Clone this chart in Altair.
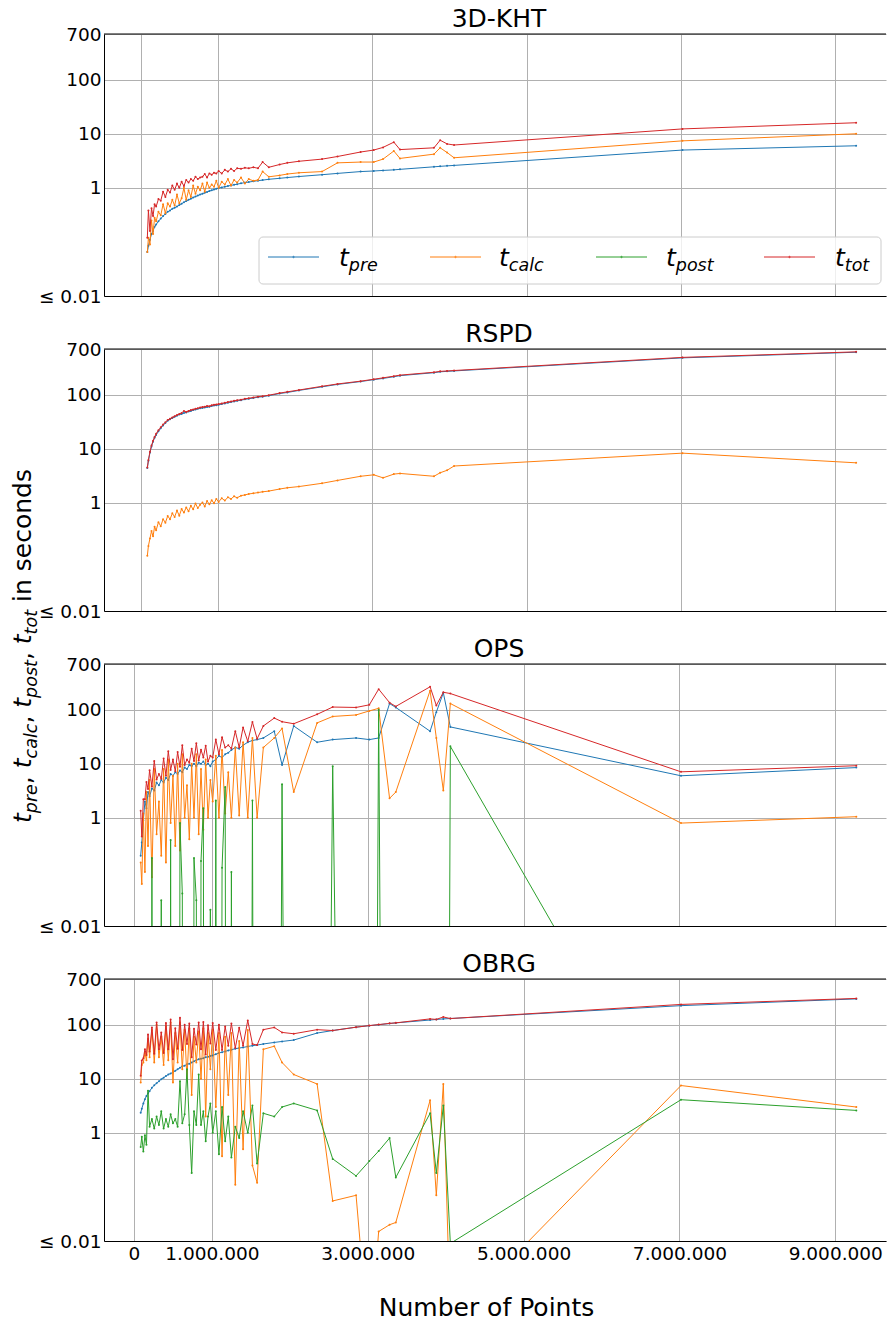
import altair as alt
import pandas as pd

# ---------------- data (x in millions of points) ----------------
X_M = [0.086, 0.10, 0.12, 0.14, 0.16, 0.18, 0.20, 0.23, 0.26, 0.29,
       0.32, 0.35, 0.38, 0.41, 0.44, 0.47, 0.50, 0.53, 0.56, 0.59,
       0.62, 0.65, 0.68, 0.71, 0.74, 0.77, 0.80, 0.83, 0.86, 0.89,
       0.92, 0.95, 0.98, 1.01, 1.05, 1.09, 1.13, 1.17, 1.21, 1.25,
       1.30, 1.35, 1.40, 1.46, 1.52, 1.58, 1.66, 1.80, 1.90, 2.05,
       2.35, 2.55, 2.85, 3.02, 3.14, 3.28, 3.36, 3.80, 3.88, 3.97,
       4.06, 7.02, 9.27]

KHT_PRE = [0.065, 0.085, 0.11, 0.14, 0.16, 0.19, 0.21, 0.24, 0.27, 0.30,
           0.33, 0.36, 0.38, 0.41, 0.43, 0.45, 0.48, 0.51, 0.54, 0.57,
           0.60, 0.63, 0.66, 0.69, 0.72, 0.75, 0.78, 0.81, 0.84, 0.87,
           0.90, 0.93, 0.96, 0.99, 1.02, 1.05, 1.08, 1.11, 1.14, 1.17,
           1.21, 1.25, 1.28, 1.32, 1.36, 1.39, 1.44, 1.50, 1.55, 1.62,
           1.75, 1.85, 2.0, 2.05, 2.1, 2.15, 2.2, 2.45, 2.5, 2.55,
           2.6, 5.0, 6.0]
KHT_CALC = [0.065, 0.12, 0.09, 0.25, 0.14, 0.28, 0.24, 0.36, 0.31, 0.50,
            0.34, 0.52, 0.45, 0.60, 0.47, 0.75, 0.52, 0.64, 1.00, 0.60,
            0.90, 0.68, 1.10, 0.78, 1.05, 0.90, 1.20, 0.85, 1.25, 1.00,
            1.15, 1.05, 1.35, 1.00, 1.30, 1.15, 1.45, 1.10, 1.40, 1.25,
            1.55, 1.20, 1.45, 1.35, 1.40, 2.0, 1.6, 1.7, 1.8, 1.9,
            2.0, 2.9, 3.0, 3.0, 3.4, 4.8, 3.5, 4.2, 5.5, 4.5,
            3.6, 7.4, 10.0]
KHT_TOT = [0.12, 0.38, 0.16, 0.42, 0.30, 0.50, 0.45, 0.62, 0.58, 0.85,
           0.68, 0.92, 0.82, 1.10, 0.92, 1.20, 1.00, 1.30, 1.08, 1.40,
           1.25, 1.45, 1.35, 1.60, 1.45, 1.55, 1.60, 1.80, 1.55, 1.85,
           1.75, 1.90, 1.85, 2.05, 1.85, 2.15, 2.00, 2.25, 2.05, 2.30,
           2.25, 2.35, 2.30, 2.40, 2.30, 3.00, 2.40, 2.70, 2.90, 3.10,
           3.40, 3.80, 4.60, 5.00, 5.60, 7.00, 5.10, 5.50, 7.60, 6.50,
           6.20, 12.3, 16.0]

RSPD_PRE = [4.4, 6.0, 8.5, 11, 13.5, 16, 18, 21, 24, 27,
            30, 33, 35, 37, 39, 41, 43, 44, 46, 47,
            49, 50, 52, 53, 55, 56, 57, 58, 59, 60,
            62, 63, 64, 65, 67, 69, 71, 73, 75, 77,
            79, 82, 84, 87, 90, 92, 96, 105, 110, 120,
            140, 155, 175, 190, 200, 215, 225, 255, 265, 270,
            275, 480, 610]
RSPD_CALC = [0.105, 0.16, 0.22, 0.30, 0.24, 0.36, 0.31, 0.44, 0.37, 0.50,
             0.43, 0.57, 0.50, 0.64, 0.55, 0.72, 0.58, 0.77, 0.66, 0.82,
             0.70, 0.88, 0.76, 0.97, 0.80, 0.92, 1.02, 0.86, 1.08, 0.94,
             1.12, 0.98, 1.18, 1.04, 1.22, 1.10, 1.27, 1.18, 1.32, 1.24,
             1.36, 1.40, 1.46, 1.50, 1.55, 1.60, 1.65, 1.80, 1.90, 2.00,
             2.30, 2.60, 3.10, 3.30, 2.90, 3.40, 3.50, 3.10, 3.60, 4.00,
             4.80, 8.30, 5.50]
RSPD_TOT = [4.5, 6.2, 8.8, 11.5, 14, 16.5, 19, 22, 25, 28,
            31, 34, 36, 38, 40, 42, 44, 46, 50, 48,
            50, 52, 53, 55, 56, 58, 59, 60, 62, 61,
            64, 65, 66, 67, 69, 71, 73, 75, 77, 79,
            81, 84, 86, 89, 92, 94, 98, 107, 113, 122,
            143, 158, 178, 193, 205, 220, 230, 260, 270, 275,
            280, 490, 620]

OPS_PRE = [0.2, 0.35, 0.9, 2.0, 1.5, 3.0, 2.5, 3.5, 3.2, 4.5,
           4.0, 5.0, 4.5, 5.5, 5.0, 6.5, 6.0, 7.0, 6.5, 7.5,
           7.0, 8.5, 8.0, 9.5, 9.0, 10.0, 9.0, 10.5, 10.0, 11.0,
           9.5, 10.0, 9.0, 11.0, 12.0, 14.0, 13.0, 15.0, 16.0, 18.0,
           20.0, 19.0, 22.0, 25.0, 27.0, 28.0, 30.0, 40.0, 9.5, 50.0,
           25.0, 28.0, 30.0, 28.0, 30.0, 130.0, 110.0, 40.0, 90.0, 205.0,
           48.0, 6.0, 8.5]
OPS_CALC = [0.15, 0.06, 1.2, 0.1, 3.0, 0.3, 5.0, 0.08, 8.0, 0.5,
            2.0, 0.2, 8.0, 0.15, 12.0, 0.8, 6.0, 0.3, 10.0, 0.25,
            15.0, 1.0, 4.0, 0.4, 10.0, 1.0, 15.0, 0.5, 8.0, 0.6,
            12.0, 1.0, 5.0, 2.0, 14.0, 1.0, 18.0, 1.2, 7.0, 1.0,
            20.0, 1.1, 25.0, 1.0, 30.0, 1.0, 20.0, 30.0, 45.0, 3.0,
            57.0, 75.0, 80.0, 95.0, 106.0, 2.3, 3.0, 225.0, 30.0, 3.2,
            130.0, 0.8, 1.05]
OPS_POST = [1e-30, 1e-30, 1e-30, 1e-30, 1e-30, 1e-30, 1e-30, 0.18, 1e-30, 1e-30,
            1e-30, 0.03, 1e-30, 1e-30, 1e-30, 0.39, 1e-30, 1e-30, 1e-30, 0.8,
            0.04, 1e-30, 1e-30, 1e-30, 1e-30, 0.18, 0.03, 1e-30, 0.16, 1.5,
            1e-30, 1e-30, 0.02, 1e-30, 2.1, 1e-30, 0.12, 3.7, 1e-30, 0.1,
            1e-30, 1e-30, 1e-30, 1e-30, 2.1, 1e-30, 1e-30, 1e-30, 4.2, 1e-30,
            1e-30, 9.0, 1e-30, 1e-30, 100.0, 1e-30, 1e-30, 1e-30, 1e-30, 1e-30,
            21.0, 8e-7, 1e-7]
OPS_TOT = [1.35, 0.45, 2.2, 2.2, 4.6, 3.4, 7.6, 3.8, 11.3, 5.1,
           6.5, 5.3, 12.5, 6.0, 17.0, 7.7, 12.0, 7.3, 16.5, 8.8,
           22.0, 9.5, 12.0, 10.4, 19.0, 11.2, 24.0, 11.5, 18.2, 13.1,
           21.5, 11.0, 14.0, 13.0, 28.1, 15.0, 31.1, 19.9, 22.0, 19.1,
           40.0, 20.0, 47.0, 26.0, 59.0, 29.0, 50.0, 70.0, 60.0, 55.0,
           82.0, 112.0, 110.0, 123.0, 240.0, 135.0, 115.0, 265.0, 120.0, 210.0,
           199.0, 7.1, 9.2]

OBRG_PRE = [2.35, 2.8, 3.5, 4.2, 4.8, 5.4, 5.9, 6.8, 7.6, 8.3,
            9.0, 9.8, 10.5, 11.2, 12.0, 12.5, 13.2, 14.0, 15.0, 16.0,
            17.0, 17.5, 18.5, 19.0, 20.0, 21.0, 22.0, 23.0, 23.5, 24.0,
            25.0, 25.5, 26.5, 27.0, 28.5, 30.0, 31.0, 32.0, 33.5, 34.5,
            36.0, 37.0, 38.0, 39.5, 41.0, 42.0, 44.0, 47.0, 49.0, 52.0,
            70.0, 78.0, 90.0, 96.0, 100.0, 105.0, 108.0, 122.0, 125.0, 128.0,
            130.0, 225.0, 300.0]
OBRG_CALC = [8.5, 18, 20, 30, 22, 55, 25, 80, 20, 100,
             25, 60, 18, 95, 22, 110, 8.5, 70, 20, 110,
             15, 80, 10, 85, 5, 60, 20, 75, 10, 85,
             2, 70, 15, 80, 3, 70, 0.37, 60, 5, 70,
             0.11, 50, 0.5, 80, 0.25, 0.12, 35, 40, 20, 12,
             8, 0.055, 0.07, 1e-4, 0.015, 0.02, 0.022, 4.0, 0.07, 8.0,
             3.3e-4, 7.5, 3.0]
OBRG_POST = [0.55, 0.85, 0.45, 0.9, 0.6, 6.0, 1.3, 1.8, 1.2, 2.0,
             1.4, 2.5, 1.2, 1.8, 1.3, 2.2, 1.5, 1.8, 1.3, 9.0,
             1.5, 2.2, 15.0, 1.4, 0.18, 2.5, 1.4, 12.0, 1.4, 2.5,
             0.7, 2.0, 3.5, 1.0, 2.5, 0.4, 3.0, 0.7, 2.0, 0.35,
             1.3, 0.8, 2.5, 1.0, 3.2, 0.27, 2.3, 2.0, 3.0, 3.5,
             2.6, 0.33, 0.16, 0.3, 0.46, 0.8, 0.15, 2.3, 0.18, 3.2,
             0.009, 4.1, 2.6]
OBRG_TOT = [11.4, 21.7, 24, 35, 27.4, 66, 32, 89, 29, 110,
            35, 72, 30, 108, 35, 125, 23, 86, 36, 135,
            34, 100, 44, 105, 25, 84, 43, 110, 35, 112,
            28, 98, 45, 108, 34, 100, 34, 93, 41, 105,
            37, 88, 41, 120, 44, 42, 81, 89, 72, 68,
            81, 78, 90, 96.3, 100.5, 105.8, 108.2, 128, 125.3, 139,
            130, 237, 306]

PANELS = [
    ("3D-KHT", {"pre": KHT_PRE, "calc": KHT_CALC, "tot": KHT_TOT}),
    ("RSPD", {"pre": RSPD_PRE, "calc": RSPD_CALC, "tot": RSPD_TOT}),
    ("OPS", {"pre": OPS_PRE, "calc": OPS_CALC, "post": OPS_POST, "tot": OPS_TOT}),
    ("OBRG", {"pre": OBRG_PRE, "calc": OBRG_CALC, "post": OBRG_POST, "tot": OBRG_TOT}),
]
X_DOMAINS = [[-475500, 9657000], [-475500, 9657000], [-385000, 9651000], [-385000, 9651000]]
Y_TICKS = [0.01, 1, 10, 100, 700]
X_TICKS = [0, 1000000, 3000000, 5000000, 7000000, 9000000]
SUBS = ["pre", "calc", "post", "tot"]

# ---------------- style ----------------
FONT = "DejaVu Sans"
W, H = 782, 262
GRID = "#b0b0b0"
COLORS = {"pre": "#1f77b4", "calc": "#ff7f0e", "post": "#2ca02c", "tot": "#d62728"}
ORDER = ["pre", "calc", "post", "tot"]
ONE = pd.DataFrame({"k": [0]})
CW = {"t": .392, "p": .635, "r": .411, "e": .615, "c": .550, "a": .613, "l": .278,
      "o": .612, "s": .521, ",": .318, " ": .318, "i": .278, "n": .634, "d": .635}


def tw(s, size):
    return sum(CW[ch] for ch in s) * size


def txt(text, x, y, size, italic=False, angle=0, align="left"):
    kw = dict(fontSize=size, font=FONT, align=align, baseline="alphabetic", color="black",
              fontStyle="italic" if italic else "normal")
    if angle:
        kw["angle"] = angle
    return alt.Chart(ONE).mark_text(**kw).encode(
        x=alt.value(x), y=alt.value(y), text=alt.value(text))


def rule(x1, x2, y, color):
    return alt.Chart(ONE).mark_rule(color=color, strokeWidth=1).encode(
        x=alt.value(x1), x2=alt.value(x2), y=alt.value(y))


def legend_layers():
    out = [alt.Chart(ONE).mark_rect(fill="white", fillOpacity=0.8, stroke="#cccccc",
                                    strokeWidth=1, cornerRadius=4).encode(
        x=alt.value(155), x2=alt.value(777), y=alt.value(203), y2=alt.value(250))]
    line_x = [164, 326, 492, 660]
    text_x = [235, 395, 562, 731]
    for key, lx, tx, sub in zip(ORDER, line_x, text_x, SUBS):
        out.append(rule(lx, lx + 51, 223, COLORS[key]))
        out.append(alt.Chart(ONE).mark_point(shape="cross", filled=True, size=6,
                                             color=COLORS[key]).encode(
            x=alt.value(lx + 25.5), y=alt.value(223)))
        out.append(txt("t", tx, 232, 25, italic=True))
        out.append(txt(sub, tx + tw("t", 25), 237, 17.5, italic=True))
    return out


def ytitle_layers():
    # vertical label, reading bottom to top, positioned relative to panel 3
    out = []
    pos = 159.0
    bx, sx = -73, -67
    for i, sub in enumerate(SUBS):
        out.append(txt("t", bx, pos, 25, italic=True, angle=270))
        pos -= tw("t", 25)
        out.append(txt(sub, sx, pos, 17.5, italic=True, angle=270))
        pos -= tw(sub, 17.5)
        if i < 3:
            out.append(txt(",", bx, pos, 25, angle=270))
            pos -= tw(", ", 25)
        else:
            pos -= tw(" ", 25)
    out.append(txt("in seconds", bx, pos, 25, angle=270))
    return out


def panel(idx):
    title, series = PANELS[idx]
    show_x = idx == 3
    xs = alt.Scale(domain=X_DOMAINS[idx], nice=False, zero=False)
    ys = alt.Scale(type="log", domain=[0.01, 700], nice=False)
    xa = dict(values=X_TICKS, grid=True, gridColor=GRID, gridWidth=1, ticks=False,
              domain=True, domainColor="black", domainWidth=1, labels=show_x)
    if show_x:
        xa.update(labelExpr="replace(replace(format(datum.value, ',d'), ',', '.'), ',', '.')",
                  labelFontSize=18.5, labelFont=FONT, labelColor="black", labelPadding=3,
                  title="Number of Points", titleFontSize=25, titleFont=FONT,
                  titleFontWeight="normal", titleColor="black", titlePadding=33,
                  titleX=382)
    else:
        xa["title"] = None
    ya = alt.Axis(values=Y_TICKS, grid=True, gridColor=GRID, gridWidth=1, ticks=False,
                  domain=True, domainColor="black", domainWidth=1,
                  labelExpr="datum.value < 0.05 ? '≤ 0.01' : format(datum.value, 'd')",
                  labelFontSize=18.5, labelFont=FONT, labelColor="black", labelPadding=3,
                  title=None)
    layers = []
    for key in ORDER:
        if key not in series:
            continue
        df = pd.DataFrame({"x": [v * 1e6 for v in X_M], "y": series[key]})
        layers.append(alt.Chart(df).mark_line(
            color=COLORS[key], strokeWidth=1, clip=True,
            point=alt.OverlayMarkDef(filled=True, size=4, color=COLORS[key], clip=True),
        ).encode(
            x=alt.X("x:Q", scale=xs, axis=alt.Axis(**xa)),
            y=alt.Y("y:Q", scale=ys, axis=ya)))
    layers.append(rule(0, W, 0, "black"))
    layers.append(txt(title, W / 2 + 4, -7, 25, align="center"))
    if idx == 0:
        layers += legend_layers()
    if idx == 2:
        layers += ytitle_layers()
    return alt.layer(*layers).properties(width=W, height=H)


chart = alt.vconcat(*[panel(i) for i in range(4)], spacing=53, bounds="flush").properties(
    padding={"left": 10, "top": 7, "right": 0, "bottom": 0},
    background="white",
).configure_view(stroke=None)

chart.save("out.html", embed_options={"renderer": "svg", "actions": False})
